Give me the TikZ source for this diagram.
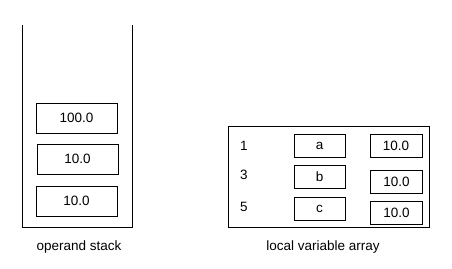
\documentclass[tikz,border=0pt]{standalone}
\usepackage{fontspec}
\setmainfont{Liberation Sans}
\usetikzlibrary{positioning}

\tikzset{cell/.style={draw,line width=0.9pt,minimum width=81pt,minimum height=30pt,inner sep=0pt},
  slot/.style={draw,line width=0.9pt,minimum width=51pt,minimum height=23pt,inner sep=0pt}}

\begin{document}
\begin{tikzpicture}[x=1pt,y=-1pt,font=\fontsize{13.5}{15}\selectfont]
  \useasboundingbox (0,0) rectangle (452,268);
  % operand stack
  \begin{scope}
    \draw[line width=0.9pt] (22,25)--(22,227)--(132,227)--(132,25);
    \node[cell] (s3) at (76.5,118) {100.0};
    \node[cell] (s2) at (77.5,159) {10.0};
    \node[cell] (s1) at (76.5,201) {10.0};
    \node (stacklbl) at (79,247) {operand stack};
  \end{scope}
  % local variable array
  \begin{scope}
    \draw[line width=0.9pt] (228,126) rectangle (429,227);
    \foreach \i/\y/\v/\vy in {1/146/a/145.5,3/175/b/176.5,5/207/c/208.5}{
      \node (idx\i) at (244,\y) {\i};
      \node[slot] (var\v) at (319.5,\vy) {\v};
    }
    \node[slot,minimum width=52pt] (val1) at (396,145.5) {10.0};
    \node[slot,minimum width=52pt] (val3) at (396.5,181.5) {10.0};
    \node[slot,minimum width=52pt] (val5) at (396.5,212.5) {10.0};
    \node (arraylbl) at (323,247) {local variable array};
  \end{scope}
\end{tikzpicture}
\end{document}
